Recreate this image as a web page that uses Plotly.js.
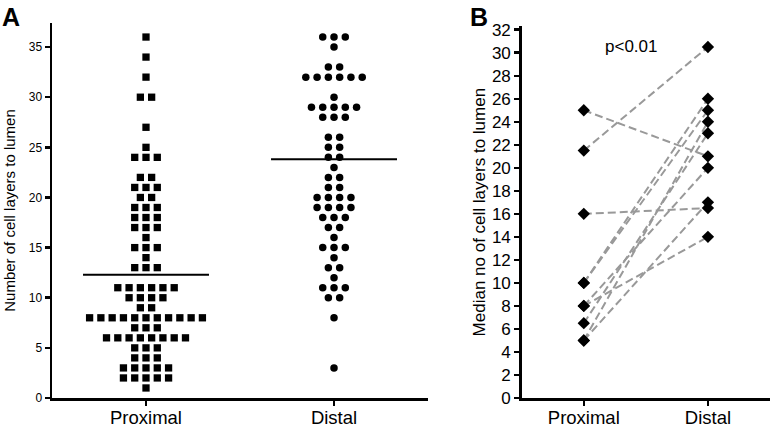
<!DOCTYPE html>
<html>
<head>
<meta charset="utf-8">
<script src="https://cdn.plot.ly/plotly-3.0.1.min.js"></script>
<style>html,body{margin:0;padding:0;background:#fff;}#chart{width:771px;height:427px;}</style>
</head>
<body>
<div id="chart"></div>
<script>
// ---------- Data ----------
const categories = ["Proximal", "Distal"];

// Panel A: number of cell layers to lumen, one value per measured duct
const proximalValues = [36, 34, 32, 30, 30, 27, 25, 24, 24, 24, 22, 22, 21, 21, 21, 20, 20,
  19, 19, 19, 18, 18, 18, 17, 17, 17, 16, 15, 15, 15, 14, 13, 13, 13,
  11, 11, 11, 11, 11, 11, 10, 10, 10, 10, 9, 9,
  8, 8, 8, 8, 8, 8, 8, 8, 8, 8, 8, 7, 7, 7,
  6, 6, 6, 6, 6, 6, 6, 6, 5, 5, 5, 4, 4, 4,
  3, 3, 3, 3, 3, 2, 2, 2, 2, 2, 1];
const distalValues = [36, 36, 36, 35, 33, 33, 32, 32, 32, 32, 32, 32, 30,
  29, 29, 29, 29, 29, 28, 28, 28, 26, 26, 25, 25, 24, 24, 23, 22, 22, 21, 21,
  20, 20, 20, 20, 19, 19, 19, 19, 18, 18, 18, 17, 17, 16, 15, 15, 15, 14,
  13, 13, 12, 11, 11, 11, 10, 10, 8, 3];
const groupMeans = [12.3, 23.8];

// Panel B: median number of cell layers to lumen, paired per patient
const pairedProximal = [21.5, 25, 16, 10, 10, 8, 8, 6.5, 5, 5];
const pairedDistal   = [30.5, 21, 16.5, 26, 25, 20, 14, 23, 24, 17];
const significanceLabel = "p<0.01";

const yTitleA = "Number of cell layers to lumen";
const yTitleB = "Median no of cell layers to lumen";

// ---------- Helpers ----------
const FONT = "Liberation Sans, Arial, Helvetica, sans-serif";
const SLOT = 0.06;       // horizontal spacing of neighbouring points (x units)
const MEAN_HALF = 0.335; // half-width of mean line (x units)

function swarm(values, center) {
  const counts = {};
  values.forEach(v => { counts[v] = (counts[v] || 0) + 1; });
  const used = {};
  return values.map(v => {
    const n = counts[v];
    const i = used[v] || 0;
    used[v] = i + 1;
    return center + (i - (n - 1) / 2) * SLOT;
  });
}

const traces = [];

// Panel A points
traces.push({
  type: "scatter", mode: "markers", xaxis: "x", yaxis: "y",
  x: swarm(proximalValues, 1), y: proximalValues,
  marker: {symbol: "square", size: 7.3, color: "#000"},
  hoverinfo: "y", name: categories[0]
});
traces.push({
  type: "scatter", mode: "markers", xaxis: "x", yaxis: "y",
  x: swarm(distalValues, 2), y: distalValues,
  marker: {symbol: "circle", size: 7.5, color: "#000"},
  hoverinfo: "y", name: categories[1]
});
// Mean lines
groupMeans.forEach((m, i) => {
  traces.push({
    type: "scatter", mode: "lines", xaxis: "x", yaxis: "y",
    x: [i + 1 - MEAN_HALF, i + 1 + MEAN_HALF], y: [m, m],
    line: {color: "#000", width: 2}, hoverinfo: "skip"
  });
});

// Panel B paired lines
pairedProximal.forEach((p, i) => {
  traces.push({
    type: "scatter", mode: "lines", xaxis: "x2", yaxis: "y2",
    x: [1, 2], y: [p, pairedDistal[i]],
    line: {color: "#999", width: 2, dash: "8px,4px"}, hoverinfo: "skip"
  });
});
traces.push({
  type: "scatter", mode: "markers", xaxis: "x2", yaxis: "y2",
  x: pairedProximal.map(() => 1).concat(pairedDistal.map(() => 2)),
  y: pairedProximal.concat(pairedDistal),
  marker: {symbol: "diamond", size: 9.5, color: "#000"},
  hoverinfo: "y"
});

const axisCommon = {
  showline: true, linecolor: "#000", linewidth: 2.5,
  ticks: "outside", ticklen: 5, tickwidth: 2.5, tickcolor: "#000",
  showgrid: false, zeroline: false, fixedrange: true
};

const layout = {
  width: 771, height: 427,
  margin: {l: 52, r: 1, t: 23, b: 29},
  paper_bgcolor: "#fff", plot_bgcolor: "#fff",
  showlegend: false,
  font: {family: FONT, color: "#000"},
  xaxis: Object.assign({}, axisCommon, {
    domain: [0, 0.5237], anchor: "y", range: [0.5, 2.5],
    tickmode: "array", tickvals: [1, 2], ticktext: categories,
    tickfont: {size: 18.5, family: FONT}, ticklabelstandoff: -4
  }),
  yaxis: Object.assign({}, axisCommon, {
    domain: [0, 1], anchor: "x", range: [0, 37.4],
    tick0: 0, dtick: 5, tickfont: {size: 12, family: FONT},
    title: {text: yTitleA, font: {size: 15, family: FONT}, standoff: 10}
  }),
  xaxis2: Object.assign({}, axisCommon, {
    domain: [0.6542, 1], anchor: "y2", range: [0.5, 2.5],
    tickmode: "array", tickvals: [1, 2], ticktext: categories,
    tickfont: {size: 18.5, family: FONT}, ticklabelstandoff: -4
  }),
  yaxis2: Object.assign({}, axisCommon, {
    domain: [0, 0.9913], anchor: "x2", range: [0, 32.3],
    tick0: 0, dtick: 2, tickfont: {size: 17, family: FONT},
    title: {text: yTitleB, font: {size: 17, family: FONT}, standoff: 2}
  }),
  annotations: [
    {text: "<b>A</b>", xref: "paper", yref: "paper", x: -0.072, y: 1.058,
     xanchor: "left", yanchor: "top", showarrow: false,
     font: {size: 25, family: FONT}},
    {text: "<b>B</b>", xref: "paper", yref: "paper", x: 0.58, y: 1.058,
     xanchor: "left", yanchor: "top", showarrow: false,
     font: {size: 25, family: FONT}},
    {text: significanceLabel, xref: "x2", yref: "y2", x: 1.38, y: 30.5,
     xanchor: "center", yanchor: "middle", showarrow: false,
     font: {size: 17, family: FONT}}
  ]
};

Plotly.newPlot("chart", traces, layout, {staticPlot: true, displayModeBar: false});
</script>
</body>
</html>
